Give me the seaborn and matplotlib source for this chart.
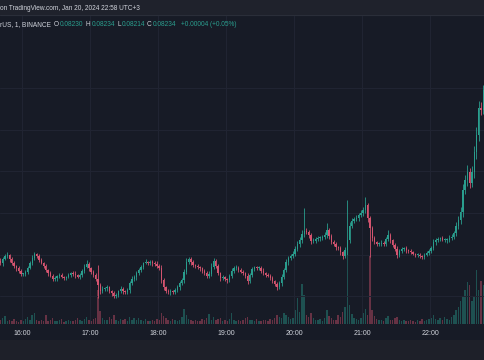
import numpy as np
import pandas as pd
import matplotlib
matplotlib.use("Agg")
import matplotlib.pyplot as plt
import matplotlib.dates as mdates
from matplotlib.patches import Rectangle
from matplotlib.lines import Line2D
import seaborn as sns

# ---------------- data ----------------
start_time = "2024-01-20 15:41"
bar_minutes = 2
view_start = "2024-01-20 15:40:36"
view_end = "2024-01-20 22:48:32"
first_open_e6 = 81886  # prices in millionths

close_e6 = [
    81880, 81890, 81897, 81899, 81890, 81880, 81873, 81868, 81861, 81854,
    81854, 81858, 81868, 81880, 81892, 81902, 81897, 81887, 81880, 81873,
    81863, 81856, 81849, 81842, 81844, 81849, 81851, 81846, 81844, 81846,
    81851, 81856, 81854, 81851, 81846, 81851, 81861, 81870, 81878, 81868,
    81858, 81851, 81842, 81827, 81813, 81818, 81820, 81822, 81813, 81808,
    81801, 81803, 81813, 81818, 81813, 81810, 81815, 81832, 81842, 81846,
    81856, 81863, 81870, 81880, 81882, 81880, 81882, 81880, 81878, 81873,
    81868, 81839, 81822, 81813, 81810, 81813, 81810, 81815, 81822, 81832,
    81839, 81858, 81882, 81890, 81882, 81875, 81873, 81870, 81868, 81861,
    81856, 81849, 81854, 81870, 81885, 81873, 81856, 81844, 81846, 81842,
    81839, 81849, 81861, 81868, 81868, 81863, 81858, 81856, 81849, 81837,
    81851, 81866, 81870, 81868, 81868, 81861, 81856, 81851, 81849, 81844,
    81837, 81830, 81822, 81832, 81846, 81863, 81882, 81892, 81897, 81902,
    81914, 81926, 81935, 81950, 81957, 81954, 81947, 81933, 81933, 81938,
    81940, 81940, 81942, 81947, 81959, 81945, 81930, 81926, 81918, 81916,
    81906, 81897, 81911, 81935, 81969, 81981, 81986, 81988, 81995, 82000,
    82007, 82019, 81988, 81964, 81940, 81930, 81926, 81926, 81928, 81926,
    81938, 81947, 81935, 81923, 81914, 81899, 81909, 81914, 81916, 81911,
    81909, 81906, 81902, 81899, 81899, 81897, 81894, 81899, 81904, 81909,
    81916, 81930, 81935, 81938, 81940, 81935, 81935, 81935, 81940, 81942,
    81952, 81969, 81983, 82002, 82055, 82079, 82098, 82072, 82098, 82146,
    82187, 82252, 82247, 82295,
]

upper_wick_e6 = [
    6, 4, 5, 8, 3, 4, 6, 3, 5, 4,
    3, 5, 4, 6, 7, 5, 3, 4, 6, 3,
    4, 3, 5, 4, 6, 3, 4, 5, 3, 4,
    5, 3, 4, 6, 3, 5, 4, 7, 9, 4,
    3, 5, 4, 33, 4, 6, 3, 5, 4, 3,
    4, 5, 3, 6, 4, 3, 5, 4, 6, 5,
    4, 6, 5, 3, 7, 4, 6, 5, 4, 6,
    5, 8, 4, 3, 5, 4, 3, 5, 6, 4,
    5, 7, 10, 5, 4, 6, 3, 5, 4, 3,
    4, 5, 6, 10, 8, 5, 4, 3, 5, 4,
    3, 5, 6, 4, 7, 5, 4, 6, 3, 8,
    6, 5, 4, 3, 5, 4, 6, 3, 4, 5,
    4, 3, 5, 6, 7, 5, 8, 6, 5, 7,
    6, 8, 7, 9, 55, 6, 5, 4, 7, 5,
    6, 4, 5, 8, 17, 5, 4, 6, 5, 3,
    5, 4, 8, 96, 9, 6, 5, 7, 6, 8,
    7, 19, 6, 4, 5, 6, 4, 5, 7, 4,
    5, 12, 4, 3, 5, 6, 4, 5, 3, 4,
    3, 5, 4, 3, 4, 5, 3, 4, 6, 5,
    6, 7, 4, 5, 3, 6, 4, 5, 7, 8,
    6, 9, 10, 12, 15, 12, 18, 10, 14, 16,
    20, 18, 15, 12,
]

lower_wick_e6 = [
    4, 6, 3, 5, 7, 4, 5, 6, 4, 5,
    6, 4, 5, 3, 4, 5, 6, 4, 3, 5,
    4, 6, 3, 5, 4, 6, 5, 3, 4, 5,
    3, 5, 4, 6, 3, 4, 5, 4, 3, 6,
    5, 4, 6, 31, 8, 5, 4, 6, 5, 7,
    5, 6, 4, 5, 7, 4, 5, 6, 4, 5,
    6, 4, 5, 4, 3, 5, 4, 6, 5, 4,
    5, 8, 6, 5, 4, 6, 5, 4, 5, 6,
    4, 6, 5, 4, 6, 5, 4, 5, 6, 4,
    5, 4, 6, 5, 4, 6, 5, 7, 4, 5,
    6, 4, 5, 6, 4, 5, 3, 4, 5, 8,
    5, 4, 6, 5, 4, 6, 5, 4, 3, 5,
    4, 6, 7, 5, 6, 5, 4, 6, 5, 4,
    6, 5, 7, 6, 8, 5, 6, 7, 5, 4,
    5, 6, 4, 5, 6, 7, 5, 4, 6, 5,
    6, 7, 5, 12, 8, 6, 5, 4, 6, 5,
    6, 8, 10, 70, 7, 5, 6, 4, 5, 6,
    4, 5, 6, 5, 4, 6, 5, 4, 5, 6,
    5, 4, 3, 5, 4, 6, 5, 4, 3, 5,
    4, 5, 6, 4, 5, 3, 4, 6, 5, 4,
    5, 6, 8, 10, 12, 9, 14, 12, 10, 15,
    16, 14, 12, 10,
]

volume_m = [
    0.12, 0.18, 0.25, 0.10, 0.14, 0.09, 0.16, 0.11, 0.08, 0.13,
    0.10, 0.15, 0.22, 0.12, 0.30, 0.36, 0.14, 0.10, 0.12, 0.09,
    0.28, 0.11, 0.13, 0.18, 0.10, 0.09, 0.12, 0.16, 0.08, 0.11,
    0.14, 0.10, 0.09, 0.13, 0.21, 0.12, 0.10, 0.15, 0.24, 0.13,
    0.11, 0.16, 0.20, 1.10, 0.42, 0.18, 0.14, 0.12, 0.22, 0.16,
    0.30, 0.14, 0.11, 0.17, 0.12, 0.15, 0.10, 0.24, 0.13, 0.20,
    0.12, 0.18, 0.14, 0.11, 0.16, 0.10, 0.09, 0.13, 0.11, 0.15,
    0.12, 0.36, 0.25, 0.18, 0.14, 0.11, 0.16, 0.12, 0.10, 0.14,
    0.22, 0.50, 0.30, 0.16, 0.12, 0.10, 0.13, 0.09, 0.11, 0.15,
    0.12, 0.18, 0.32, 0.14, 0.24, 0.12, 0.15, 0.20, 0.10, 0.13,
    0.11, 0.16, 0.35, 0.14, 0.10, 0.12, 0.09, 0.13, 0.18, 0.22,
    0.14, 0.12, 0.10, 0.15, 0.11, 0.09, 0.12, 0.14, 0.10, 0.16,
    0.13, 0.19, 0.30, 0.24, 0.18, 0.35, 0.28, 0.22, 0.16, 0.20,
    0.45, 0.85, 0.40, 1.30, 0.95, 0.30, 0.22, 0.35, 0.18, 0.14,
    0.12, 0.16, 0.10, 0.18, 0.45, 0.25, 0.20, 0.14, 0.12, 0.30,
    0.22, 0.38, 0.55, 2.40, 0.60, 0.32, 0.20, 0.16, 0.14, 0.18,
    0.36, 0.50, 0.30, 2.20, 0.45, 0.25, 0.16, 0.12, 0.14, 0.10,
    0.18, 0.26, 0.14, 0.12, 0.20, 0.22, 0.14, 0.10, 0.12, 0.09,
    0.11, 0.14, 0.10, 0.08, 0.12, 0.10, 0.15, 0.11, 0.13, 0.16,
    0.20, 0.28, 0.15, 0.12, 0.18, 0.14, 0.22, 0.16, 0.13, 0.24,
    0.30, 0.45, 0.55, 0.75, 0.90, 1.10, 1.35, 1.25, 0.75, 0.90,
    1.75, 1.10, 1.40, 1.25,
]

hour_ticks = ["16:00", "17:00", "18:00", "19:00", "20:00", "21:00", "22:00"]
price_grid = [0.0818, 0.0819, 0.0820, 0.0821, 0.0822, 0.0823]
price_view = (0.0817336, 0.0824752)
volume_view = (0, 10)

header_source = "on TradingView.com, Jan 20, 2024 22:58 UTC+3"
header_symbol = "rUS, 1, BINANCE"
ohlc_labels = ["O", "H", "L", "C"]
ohlc_values = ["0.08230", "0.08234", "0.08214", "0.08234"]
change_text = "+0.00004 (+0.05%)"

# ---------------- style ----------------
BG = "#171b26"
HEADER_BG = "#1f222c"
FOOT_BG = "#1e2029"
GRID = "#212533"
UP = "#2a9e8e"
DOWN = "#d4546f"
TEXT = "#d1d4dc"
FS = 4.7

sns.set_theme(style="dark", rc={"axes.facecolor": BG, "figure.facecolor": BG})
plt.rcParams["font.family"] = ["Liberation Sans", "DejaVu Sans"]

W, H = 485, 360
fig = plt.figure(figsize=(W / 100, H / 100), dpi=100, facecolor=BG)


def fy(py):
    return 1 - py / H


ax = fig.add_axes([0, fy(324), 1, (324 - 15) / H])
axv = ax.twinx()
ax.set_zorder(axv.get_zorder() + 1)
ax.patch.set_visible(False)
axv.patch.set_facecolor(BG)

# ---------------- build OHLC ----------------
closes = np.array(close_e6, dtype=float) * 1e-6
opens = np.concatenate([[first_open_e6 * 1e-6], closes[:-1]])
highs = np.maximum(opens, closes) + np.array(upper_wick_e6) * 1e-6
lows = np.minimum(opens, closes) - np.array(lower_wick_e6) * 1e-6
times = pd.date_range(start_time, periods=len(closes), freq=f"{bar_minutes}min")
df = pd.DataFrame({"time": times, "open": opens, "high": highs, "low": lows,
                   "close": closes, "volume": volume_m})
df["up"] = df["close"] >= df["open"]
xs = mdates.date2num(df["time"].to_numpy())
bar_w = bar_minutes / 1440 * 0.6

up_col = np.where(df["up"], UP, DOWN)

# volume (overlay, bottom)
vol_colors = [(*matplotlib.colors.to_rgb(c), 0.42) for c in up_col]
axv.bar(xs, df["volume"], width=bar_w * 1.1, color=vol_colors, linewidth=0)
axv.set_ylim(*volume_view)

# candles
ax.vlines(xs, df["low"], df["high"], colors=up_col, linewidth=0.6, zorder=3)
body_bottom = np.minimum(df["open"], df["close"])
body_h = np.maximum(np.abs(df["close"] - df["open"]), 1.6e-6)
ax.bar(xs, body_h, bottom=body_bottom, width=bar_w, color=up_col,
       linewidth=0, zorder=4)

ax.set_ylim(*price_view)
ax.set_xlim(mdates.date2num(pd.Timestamp(view_start)),
            mdates.date2num(pd.Timestamp(view_end)))
axv.set_xlim(ax.get_xlim())

# grid & ticks
tick_pos = [mdates.date2num(pd.Timestamp("2024-01-20 " + h)) for h in hour_ticks]
ax.set_xticks(tick_pos)
ax.set_xticklabels(hour_ticks)
ax.set_yticks(price_grid)
ax.grid(True, color=GRID, linewidth=0.7)
ax.set_axisbelow(True)
ax.tick_params(axis="x", length=0, pad=4.2, labelsize=5, labelcolor=TEXT)
ax.tick_params(axis="y", left=False, labelleft=False, right=False, labelright=False)
axv.tick_params(axis="y", right=False, labelright=False, left=False)
axv.grid(False)
for a in (ax, axv):
    for s in a.spines.values():
        s.set_visible(False)

# header and footer bands
fig.add_artist(Rectangle((0, fy(15)), 1, 15 / H, transform=fig.transFigure,
                         facecolor=HEADER_BG, edgecolor="none", zorder=0))
fig.add_artist(Line2D([0, 1], [fy(15), fy(15)], transform=fig.transFigure,
                      color="#2a2e39", linewidth=0.8))
fig.add_artist(Rectangle((0, 0), 1, 20 / H, transform=fig.transFigure,
                         facecolor=FOOT_BG, edgecolor="none", zorder=0))

fig.text(0.5 / W, fy(8), header_source, fontsize=FS, color=TEXT,
         ha="left", va="center")
fig.text(0.5 / W, fy(24.5), header_symbol, fontsize=FS, color=TEXT,
         ha="left", va="center")
label_x = [53.5, 86, 118, 147]
value_x = [59.5, 91.5, 121.5, 152.5]
for lab, lx, val, vx in zip(ohlc_labels, label_x, ohlc_values, value_x):
    fig.text(lx / W, fy(24.5), lab, fontsize=FS, color=TEXT, ha="left", va="center")
    fig.text(vx / W, fy(24.5), val, fontsize=FS, color=UP, ha="left", va="center")
fig.text(181.5 / W, fy(24.5), change_text, fontsize=FS, color=UP,
         ha="left", va="center")

fig.savefig("out.png", dpi=100, facecolor=BG)
